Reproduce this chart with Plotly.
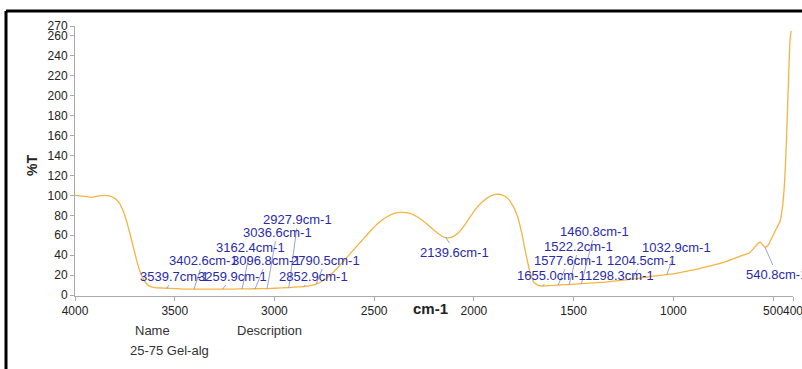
import numpy as np
import plotly.graph_objects as go

# ---- data ----
wavenumber = [4000, 3950, 3920, 3880, 3850, 3820, 3800, 3780, 3760, 3740, 3720, 3700, 3680, 3660,
              3640, 3620, 3600, 3560, 3539.7, 3500, 3450, 3402.6, 3350, 3300, 3259.9, 3200, 3162.4,
              3096.8, 3036.6, 3000, 2927.9, 2900, 2852.9, 2820, 2790.5, 2760, 2720, 2680, 2640, 2600,
              2560, 2520, 2480, 2440, 2400, 2360, 2320, 2280, 2240, 2200, 2160, 2139.6, 2110, 2080,
              2040, 2000, 1960, 1920, 1890, 1860, 1830, 1800, 1780, 1760, 1740, 1720, 1700, 1680,
              1655.0, 1620, 1577.6, 1550, 1522.2, 1490, 1460.8, 1420, 1380, 1340, 1298.3, 1250,
              1204.5, 1150, 1100, 1032.9, 980, 930, 880, 830, 780, 730, 690, 650, 620, 600, 580,
              565, 555, 540.8, 525, 505, 485, 465, 455, 445, 438, 432, 426, 420, 415, 410]
transmittance = [100, 99, 98, 99.5, 100, 99, 97, 93, 85, 73, 58, 42, 27, 17,
                 11, 8.5, 7.5, 7, 6.8, 6.5, 6, 6, 6, 6, 6, 6, 6.2,
                 6.3, 6.5, 6.8, 7.5, 8, 8.5, 9.5, 11, 14, 20, 28, 37, 46,
                 55, 64, 72, 78, 82, 83, 82, 78, 72, 65, 59, 57.5, 58, 62,
                 72, 84, 93, 99, 101, 100.5, 97, 88, 78, 62, 42, 24, 13, 10,
                 9, 9.5, 10, 10.5, 10.5, 11, 11.5, 12, 12.5, 13, 14, 15,
                 16, 17.5, 19, 20.5, 22, 24, 26, 28.5, 31, 34, 37, 40, 42, 46, 51,
                 53, 51, 48, 50, 58, 66, 74, 85, 105, 130, 160, 195, 230, 255, 265]

peak_wavenumbers = [2927.9, 3036.6, 3162.4, 3402.6, 3096.8, 2790.5, 3539.7, 3259.9, 2852.9,
                    2139.6, 1460.8, 1522.2, 1577.6, 1204.5, 1655.0, 1298.3, 1032.9, 540.8]
peak_labels = [f"{p:.1f}cm-1" for p in peak_wavenumbers]

x_ticks = [4000, 3500, 3000, 2500, 2000, 1500, 1000, 500, 400]
y_ticks = [0, 20, 40, 60, 80, 100, 120, 140, 160, 180, 200, 220, 240, 260, 270]

# label placement (axis units) for each peak annotation
label_pos = [(2882, 76), (2987, 63), (3118, 48), (3358, 35), (3038, 35), (2742, 35),
             (3499, 19), (3208, 19), (2802, 19), (2095, 43), (1393, 64), (1474, 49),
             (1524, 35), (1158, 35), (1609, 20), (1268, 20), (982, 48), (481, 21)]

W, H = 802, 369
ml, mr, mt, mb = 75, 9, 26, 73

fig = go.Figure()
fig.add_trace(go.Scatter(
    x=wavenumber, y=transmittance, mode="lines",
    line=dict(color="#F2B443", width=1.3, shape="spline", smoothing=0.5),
    hoverinfo="skip", showlegend=False))

wn_sorted = np.array(wavenumber[::-1], dtype=float)
tr_sorted = np.array(transmittance[::-1], dtype=float)
for p, lab, (lx, ly) in zip(peak_wavenumbers, peak_labels, label_pos):
    yv = float(np.interp(p, wn_sorted, tr_sorted))
    fig.add_annotation(
        x=p, y=yv, xref="x", yref="y", ax=lx, ay=ly, axref="x", ayref="y",
        text=lab, showarrow=True, arrowhead=0, arrowwidth=0.8, arrowcolor="#8088cc",
        font=dict(family="Liberation Sans, Arial", size=13, color="#2a2aa8"),
        xanchor="center", yanchor="middle")

pw = W - ml - mr
ph = H - mt - mb

def px_x(px):
    return (px - ml) / pw

def px_y(py):
    return (H - mb - py) / ph

# axis titles and footer text
fig.add_annotation(text="<b>%T</b>", x=px_x(22), y=px_y(166), xref="paper", yref="paper",
                   showarrow=False, textangle=-90,
                   font=dict(family="Liberation Sans, Arial", size=14, color="#222"))
fig.add_annotation(text="<b>cm-1</b>", x=px_x(430), y=px_y(319), xref="paper", yref="paper",
                   showarrow=False, font=dict(family="Liberation Sans, Arial", size=15, color="#222"))
for txt, cx, cy in [("Name", 133, 340), ("Description", 235, 340), ("25-75 Gel-alg", 128, 360)]:
    fig.add_annotation(text=txt, x=px_x(cx), y=px_y(cy), xref="paper", yref="paper",
                       showarrow=False, font=dict(family="Liberation Sans, Arial", size=13, color="#333"))

# frame border (left and top)
fig.add_shape(type="line", xref="paper", yref="paper", x0=px_x(6), x1=px_x(810),
              y0=px_y(11), y1=px_y(11), line=dict(color="black", width=3))
fig.add_shape(type="line", xref="paper", yref="paper", x0=px_x(6), x1=px_x(6),
              y0=px_y(11), y1=px_y(380), line=dict(color="black", width=3))

axis_font = dict(family="Liberation Sans, Arial", size=12, color="#222")
fig.update_layout(
    width=W, height=H,
    margin=dict(l=ml, r=mr, t=mt, b=mb, autoexpand=False),
    paper_bgcolor="white", plot_bgcolor="white",
    xaxis=dict(range=[4000, 400], tickvals=x_ticks, ticktext=[str(v) for v in x_ticks],
               showgrid=False, zeroline=False, showline=True, linecolor="#aaa", linewidth=1,
               ticks="outside", ticklen=4, tickcolor="#aaa", tickfont=axis_font, tickangle=0,
               ticklabeloverflow="allow", automargin=False),
    yaxis=dict(range=[-1, 270], tickvals=y_ticks, showgrid=False, zeroline=False,
               showline=True, linecolor="#aaa", linewidth=1, ticks="outside", ticklen=4,
               tickcolor="#aaa", tickfont=axis_font, automargin=False),
)

fig.write_html("out.html")
